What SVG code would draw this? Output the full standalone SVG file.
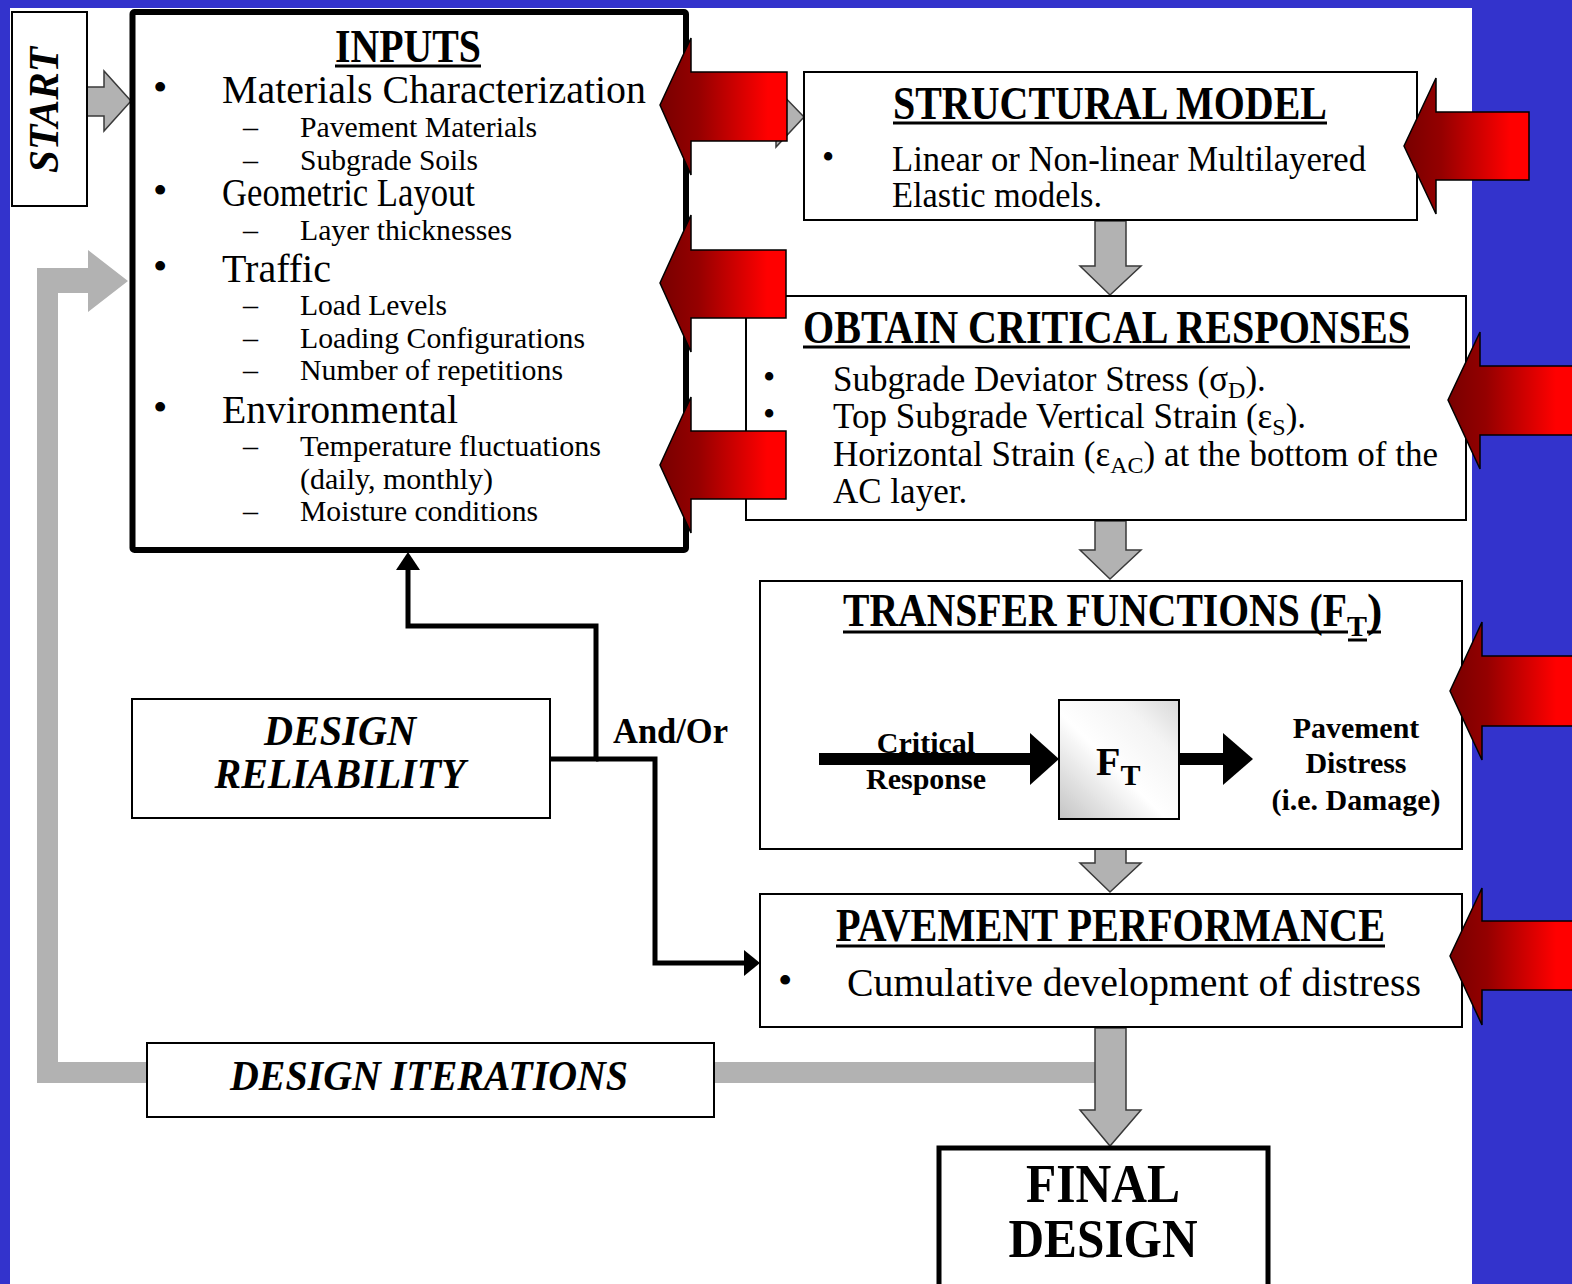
<svg xmlns="http://www.w3.org/2000/svg" width="1572" height="1284" viewBox="0 0 1572 1284">
<defs>
<style>
text{font-family:"Liberation Serif","Times New Roman",serif;fill:#000}
.b{font-weight:bold}
.bi{font-weight:bold;font-style:italic}
.box{fill:#fff;stroke:#000;stroke-width:2}
.thick{fill:#fff;stroke:#000;stroke-width:6}
.gray{fill:#b2b2b2;stroke:#3a3a3a;stroke-width:1.5;stroke-linejoin:miter}
.grayflat{fill:#b2b2b2;stroke:none}
.red{fill:url(#redg);stroke:#000;stroke-width:1.5}
.wire{fill:none;stroke:#000;stroke-width:5}
.ul{stroke:#000;stroke-width:3}
.main{font-size:41px}
.sub{font-size:30px}
.body{font-size:35px}
.title{font-size:46px;font-weight:bold}
.lbl{font-size:30px;font-weight:bold}
</style>
<linearGradient id="redg" x1="0" y1="0" x2="1" y2="0">
<stop offset="0" stop-color="#780000"/>
<stop offset="0.3" stop-color="#950000"/>
<stop offset="0.85" stop-color="#ff0000"/>
<stop offset="1" stop-color="#ff0000"/>
</linearGradient>
<linearGradient id="ftg" x1="0" y1="1" x2="1" y2="0">
<stop offset="0" stop-color="#c4c4c4"/>
<stop offset="0.45" stop-color="#ffffff"/>
<stop offset="0.75" stop-color="#f4f4f4"/>
<stop offset="1" stop-color="#d8d8d8"/>
</linearGradient>
</defs>

<rect x="0" y="0" width="1572" height="1284" fill="#3333cc"/>
<rect x="10" y="8" width="1462" height="1276" fill="#fff"/>

<g id="connectors">
<polygon class="grayflat" points="1096,1062 58,1062 58,293 88,293 88,312 128,281 88,250 88,268 37,268 37,1083 1096,1083"/>
<polygon class="gray" points="87,87 104,87 104,71 131,101 104,131 104,116 87,116"/>
<polygon class="gray" points="686,103 776,103 776,88 804,117 776,147 776,131 686,131"/>
<polygon class="gray" points="1095,221 1126,221 1126,266 1141,266 1110,295 1080,266 1095,266"/>
<polygon class="gray" points="1095,521 1126,521 1126,550 1141,550 1110,579 1080,550 1095,550"/>
<polygon class="gray" points="1095,849 1126,849 1126,863 1141,863 1110,892 1080,863 1095,863"/>
<polygon class="gray" points="1095,1028 1126,1028 1126,1110 1141,1110 1110,1146 1080,1110 1095,1110"/>
<path class="wire" d="M550,759 H596 V626 H408 V568"/>
<polygon points="396,570 420,570 408,552" fill="#000"/>
<path class="wire" d="M596,759 H655 V963 H746"/>
<polygon points="744,950 744,976 760,963" fill="#000"/>
</g>

<g id="start">
<rect class="box" x="12" y="12" width="75" height="194"/>
<text class="bi" font-size="42" transform="translate(58,110) rotate(-90)" text-anchor="middle" textLength="126" lengthAdjust="spacingAndGlyphs">START</text>
</g>

<g id="inputs">
<rect class="thick" x="132.5" y="12" width="553.5" height="538" rx="2"/>
<text class="title" x="408" y="62" text-anchor="middle" textLength="146" lengthAdjust="spacingAndGlyphs">INPUTS</text>
<line class="ul" x1="335" y1="66" x2="481" y2="66"/>
<g class="main">
<text x="153" y="101">•</text>
<text x="222" y="103" textLength="424" lengthAdjust="spacingAndGlyphs">Materials Characterization</text>
<text x="153" y="204">•</text>
<text x="222" y="206" textLength="253" lengthAdjust="spacingAndGlyphs">Geometric Layout</text>
<text x="153" y="280">•</text>
<text x="222" y="282" textLength="109" lengthAdjust="spacingAndGlyphs">Traffic</text>
<text x="153" y="421">•</text>
<text x="222" y="423" textLength="236" lengthAdjust="spacingAndGlyphs">Environmental</text>
</g>
<g class="sub">
<text x="243" y="137">–</text>
<text x="300" y="137" textLength="237" lengthAdjust="spacingAndGlyphs">Pavement Materials</text>
<text x="243" y="170">–</text>
<text x="300" y="170" textLength="178" lengthAdjust="spacingAndGlyphs">Subgrade Soils</text>
<text x="243" y="240">–</text>
<text x="300" y="240" textLength="212" lengthAdjust="spacingAndGlyphs">Layer thicknesses</text>
<text x="243" y="315">–</text>
<text x="300" y="315" textLength="147" lengthAdjust="spacingAndGlyphs">Load Levels</text>
<text x="243" y="348">–</text>
<text x="300" y="348" textLength="285" lengthAdjust="spacingAndGlyphs">Loading Configurations</text>
<text x="243" y="380">–</text>
<text x="300" y="380" textLength="263" lengthAdjust="spacingAndGlyphs">Number of repetitions</text>
<text x="243" y="456">–</text>
<text x="300" y="456" textLength="301" lengthAdjust="spacingAndGlyphs">Temperature fluctuations</text>
<text x="300" y="489" textLength="193" lengthAdjust="spacingAndGlyphs">(daily, monthly)</text>
<text x="243" y="521">–</text>
<text x="300" y="521" textLength="238" lengthAdjust="spacingAndGlyphs">Moisture conditions</text>
</g>
</g>

<g id="structural-model">
<rect class="box" x="804" y="72" width="613" height="148"/>
<text class="title" x="893" y="119" textLength="434" lengthAdjust="spacingAndGlyphs">STRUCTURAL MODEL</text>
<line class="ul" x1="893" y1="123" x2="1327" y2="123"/>
<text class="body" x="822" y="169">•</text>
<text class="body" x="892" y="171" textLength="474" lengthAdjust="spacingAndGlyphs">Linear or Non-linear Multilayered</text>
<text class="body" x="892" y="207" textLength="210" lengthAdjust="spacingAndGlyphs">Elastic models.</text>
</g>

<g id="critical-responses">
<rect class="box" x="746" y="296" width="720" height="224"/>
<text class="title" x="803" y="343" textLength="607" lengthAdjust="spacingAndGlyphs">OBTAIN CRITICAL RESPONSES</text>
<line class="ul" x1="803" y1="347" x2="1410" y2="347"/>
<text class="body" x="763" y="389">•</text>
<text class="body" x="763" y="426">•</text>
<text class="body" x="833" y="391">Subgrade Deviator Stress (σ<tspan font-size="24" dy="7">D</tspan><tspan dy="-7">).</tspan></text>
<text class="body" x="833" y="428">Top Subgrade Vertical Strain (ε<tspan font-size="24" dy="7">S</tspan><tspan dy="-7">).</tspan></text>
<text class="body" x="833" y="466">Horizontal Strain (ε<tspan font-size="24" dy="7">AC</tspan><tspan dy="-7">) at the bottom of the</tspan></text>
<text class="body" x="833" y="503">AC layer.</text>
</g>

<g id="transfer-functions">
<rect class="box" x="760" y="581" width="702" height="268"/>
<text class="title" x="843" y="626"><tspan textLength="504" lengthAdjust="spacingAndGlyphs">TRANSFER FUNCTIONS (F</tspan><tspan font-size="30" dy="10">T</tspan><tspan dy="-10">)</tspan></text>
<line class="ul" x1="843" y1="632" x2="1348" y2="632"/>
<line class="ul" x1="1348" y1="640" x2="1367" y2="640"/>
<line class="ul" x1="1367" y1="632" x2="1381" y2="632"/>
<rect x="819" y="753" width="212" height="12" fill="#000"/>
<polygon points="1030,733 1059,759 1030,785" fill="#000"/>
<rect x="1179" y="753" width="45" height="12" fill="#000"/>
<polygon points="1223,733 1253,759 1223,785" fill="#000"/>
<text class="lbl" x="926" y="753" text-anchor="middle">Critical</text>
<text class="lbl" x="926" y="789" text-anchor="middle">Response</text>
<rect x="1059" y="700" width="120" height="119" fill="url(#ftg)" stroke="#000" stroke-width="2"/>
<text class="b" font-size="40" x="1096" y="775">F<tspan font-size="30" dy="10">T</tspan></text>
<text class="lbl" x="1356" y="738" text-anchor="middle">Pavement</text>
<text class="lbl" x="1356" y="773" text-anchor="middle">Distress</text>
<text class="lbl" x="1356" y="810" text-anchor="middle">(i.e. Damage)</text>
</g>

<g id="pavement-performance">
<rect class="box" x="760" y="894" width="702" height="133"/>
<text class="title" x="836" y="941" textLength="549" lengthAdjust="spacingAndGlyphs">PAVEMENT PERFORMANCE</text>
<line class="ul" x1="836" y1="946" x2="1385" y2="946"/>
<text class="main" x="778" y="994">•</text>
<text class="main" x="847" y="996" textLength="574" lengthAdjust="spacingAndGlyphs">Cumulative development of distress</text>
</g>

<g id="final-design">
<rect x="939" y="1148" width="329" height="145" fill="#fff" stroke="#000" stroke-width="5"/>
<text class="b" font-size="54" x="1103" y="1202" text-anchor="middle" textLength="154" lengthAdjust="spacingAndGlyphs">FINAL</text>
<text class="b" font-size="54" x="1103" y="1257" text-anchor="middle" textLength="189" lengthAdjust="spacingAndGlyphs">DESIGN</text>
</g>

<g id="design-reliability">
<rect class="box" x="132" y="699" width="418" height="119"/>
<text class="bi" font-size="43" x="340" y="745" text-anchor="middle" textLength="152" lengthAdjust="spacingAndGlyphs">DESIGN</text>
<text class="bi" font-size="43" x="340" y="788" text-anchor="middle" textLength="251" lengthAdjust="spacingAndGlyphs">RELIABILITY</text>
<text class="b" font-size="36" x="613" y="743" textLength="115" lengthAdjust="spacingAndGlyphs">And/Or</text>
</g>

<g id="design-iterations">
<rect class="box" x="147" y="1043" width="567" height="74"/>
<text class="bi" font-size="42" x="429" y="1090" text-anchor="middle" textLength="398" lengthAdjust="spacingAndGlyphs">DESIGN ITERATIONS</text>
</g>

<g id="input-arrows">
<polygon class="red" points="787,72 691,72 691,38 660,105 691,175 691,141 787,141"/>
<polygon class="red" points="786,250 691,250 691,215 660,283 691,352 691,318 786,318"/>
<polygon class="red" points="786,431 691,431 691,397 660,465 691,533 691,499 786,499"/>
<polygon class="red" points="1529,112 1436,112 1436,78 1404,146 1436,214 1436,180 1529,180"/>
<polygon class="red" points="1575,366 1480,366 1480,332 1448,400 1480,469 1480,435 1575,435"/>
<polygon class="red" points="1575,656 1482,656 1482,622 1450,691 1482,760 1482,726 1575,726"/>
<polygon class="red" points="1575,921 1482,921 1482,888 1450,956 1482,1025 1482,990 1575,990"/>
</g>
</svg>
